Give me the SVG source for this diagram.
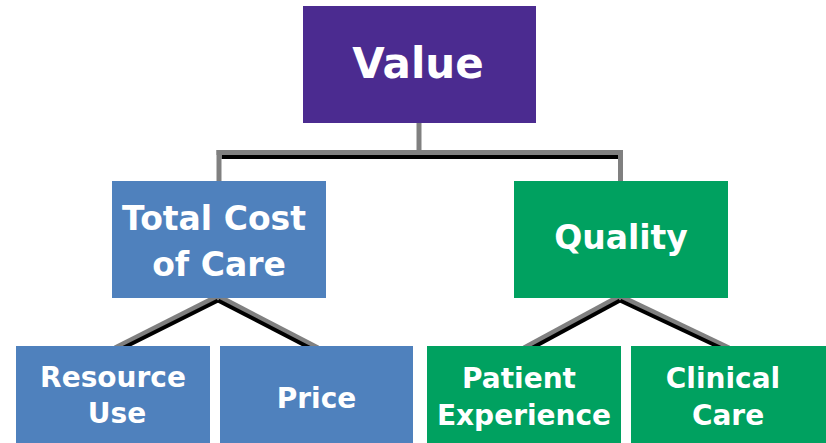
<svg xmlns="http://www.w3.org/2000/svg" width="826" height="443" viewBox="0 0 826 443">
<style>
.t{font-family:"DejaVu Sans","Liberation Sans",sans-serif;font-weight:bold;fill:#fff;text-anchor:middle}
.g{stroke:#808080;stroke-width:5;fill:none}
.k{stroke:#000;stroke-width:4;fill:none}
.p{fill:#4B2B90}
.b{fill:#4F81BD}
.gr{fill:#00A160}
</style>
<rect width="826" height="443" fill="#fff"/>
<g id="connectors">
<line class="g" x1="419" y1="123" x2="419" y2="155"/>
<line class="g" x1="216.5" y1="152.5" x2="623" y2="152.5"/>
<line class="k" x1="221.5" y1="157" x2="618" y2="157"/>
<line class="g" x1="219" y1="150" x2="219" y2="183"/>
<line class="g" x1="620.5" y1="150" x2="620.5" y2="183"/>
<line class="g" x1="218" y1="296" x2="115" y2="348"/>
<line class="g" x1="218" y1="296" x2="318" y2="348"/>
<line class="k" x1="218" y1="300.5" x2="123" y2="348"/>
<line class="k" x1="218" y1="300.5" x2="310" y2="348"/>
<line class="g" x1="620" y1="296" x2="524" y2="348"/>
<line class="g" x1="620" y1="296" x2="729" y2="348"/>
<line class="k" x1="620" y1="300.5" x2="532" y2="348"/>
<line class="k" x1="620" y1="300.5" x2="721" y2="348"/>
</g>
<g id="value">
<rect class="p" x="303" y="6" width="233" height="117"/>
<text class="t" x="418" y="78" font-size="42">Value</text>
</g>
<g id="total-cost">
<rect class="b" x="112" y="181" width="214" height="117"/>
<text class="t" x="214" y="230" font-size="33">Total Cost</text>
<text class="t" x="219" y="276" font-size="33">of Care</text>
</g>
<g id="quality">
<rect class="gr" x="514" y="181" width="214" height="117"/>
<text class="t" x="621" y="249" font-size="33">Quality</text>
</g>
<g id="resource-use">
<rect class="b" x="16" y="346" width="194" height="97"/>
<text class="t" x="113" y="387" font-size="28">Resource</text>
<text class="t" x="117" y="423" font-size="28">Use</text>
</g>
<g id="price">
<rect class="b" x="220" y="346" width="193" height="97"/>
<text class="t" x="316.5" y="408" font-size="28">Price</text>
</g>
<g id="patient-experience">
<rect class="gr" x="427" y="346" width="194" height="97"/>
<text class="t" x="519" y="388" font-size="28">Patient</text>
<text class="t" x="524" y="425" font-size="28">Experience</text>
</g>
<g id="clinical-care">
<rect class="gr" x="631" y="346" width="195" height="97"/>
<text class="t" x="723" y="388" font-size="28">Clinical</text>
<text class="t" x="728" y="425" font-size="28">Care</text>
</g>
</svg>
